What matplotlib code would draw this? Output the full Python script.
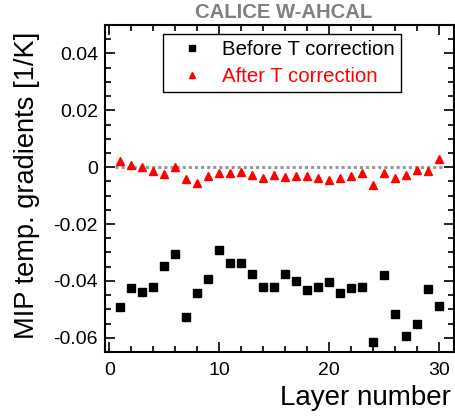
import matplotlib
matplotlib.use("Agg")
import matplotlib.pyplot as plt
from matplotlib.ticker import MultipleLocator, FixedLocator
from matplotlib.lines import Line2D

plt.rcParams['font.family'] = ['Liberation Sans', 'DejaVu Sans']

layers = list(range(1, 31))
before = [-0.0493, -0.0425, -0.0439, -0.0420, -0.0347, -0.0305, -0.0526, -0.0444,
          -0.0392, -0.0291, -0.0336, -0.0338, -0.0376, -0.0421, -0.0421, -0.0377,
          -0.0402, -0.0431, -0.0421, -0.0405, -0.0444, -0.0425, -0.0423, -0.0616,
          -0.0380, -0.0516, -0.0593, -0.0550, -0.0428, -0.0488]
after = [0.0022, 0.0008, 0.0001, -0.0013, -0.0025, 0.0001, -0.0043, -0.0056,
         -0.0032, -0.0021, -0.0020, -0.0016, -0.0028, -0.0038, -0.0027, -0.0033,
         -0.0030, -0.0032, -0.0037, -0.0045, -0.0037, -0.0031, -0.0021, -0.0064,
         -0.0019, -0.0038, -0.0027, -0.0011, -0.0013, 0.0028]
ref_x = [0.5, 30.5]
ref_y = [0.0, 0.0]

W, H = 456, 417
fig = plt.figure(figsize=(W / 100, H / 100), dpi=100)
ax = fig.add_axes([105 / W, (H - 352) / H, (454 - 105) / W, (352 - 25) / H])

ax.plot(ref_x, ref_y, color='#999999', lw=2.2, linestyle=(0, (1, 1)), zorder=1)
ax.plot(layers, before, 's', color='black', ms=5.2, mec='black', ls='none', zorder=3)
ax.plot(layers, after, '^', color='red', ms=6.0, mec='red', ls='none', zorder=3)

ax.set_xlim(-0.4, 31.4)
ax.set_ylim(-0.065, 0.05)
ax.xaxis.set_major_locator(FixedLocator([0, 10, 20, 30]))
ax.xaxis.set_minor_locator(MultipleLocator(2))
ax.yaxis.set_major_locator(FixedLocator([-0.06, -0.04, -0.02, 0, 0.02, 0.04]))
ax.yaxis.set_minor_locator(MultipleLocator(0.005))
ax.set_yticklabels(['-0.06', '-0.04', '-0.02', '0', '0.02', '0.04'])

for s in ax.spines.values():
    s.set_linewidth(1.5)
ax.tick_params(which='both', direction='in', top=True, right=True, width=1.2)
ax.tick_params(which='major', length=7.5, labelsize=14)
ax.tick_params(which='minor', length=4)
ax.tick_params(axis='x', which='major', pad=7)
ax.tick_params(axis='y', which='major', pad=5)

fig.text(27.5 / W, 1 - 185 / H, 'MIP temp. gradients [1/K]', rotation=90,
         ha='center', va='center', fontsize=19.6)
fig.text(451 / W, 1 - 398 / H, 'Layer number', ha='right', va='center', fontsize=20)
fig.text(283.5 / W, 1 - 12 / H, 'CALICE W-AHCAL', ha='center', va='center',
         fontsize=14.6, fontweight='bold', color='#808080')

handles = [Line2D([], [], marker='s', color='black', ls='none', ms=4.0),
           Line2D([], [], marker='^', color='red', ls='none', ms=4.0)]
leg = ax.legend(handles, ['Before T correction', 'After T correction'],
                loc='upper left',
                bbox_to_anchor=((163 - 105) / (454 - 105), 1 - (34 - 25) / (352 - 25)),
                fontsize=14.7, frameon=True, fancybox=False, framealpha=1,
                edgecolor='black', handlelength=2.22, handletextpad=0.36,
                borderpad=0.3, labelspacing=0.4, borderaxespad=0)
leg.get_frame().set_linewidth(1.0)
for t, c in zip(leg.get_texts(), ['black', 'red']):
    t.set_color(c)

fig.savefig('out.png', dpi=100)
